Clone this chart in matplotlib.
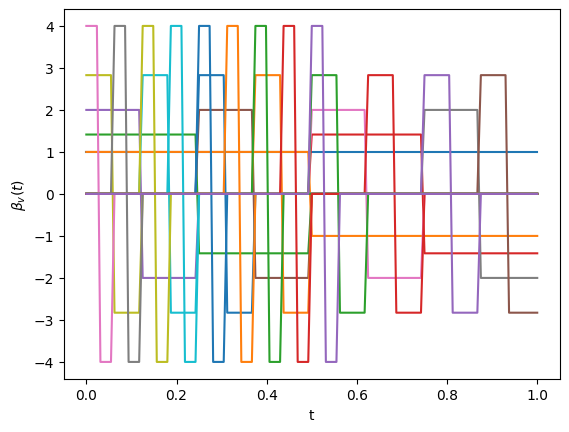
import numpy as np
import matplotlib
matplotlib.use("Agg")
import matplotlib.pyplot as plt

# sample grid (129 points on [0, 1])
t = np.linspace(0, 1, 129)

# Haar-type basis functions: height, support start, support width
# first entry is the constant function (no sign change)
heights = [1.0, 1.0,
           1.414, 1.414,
           2.0, 2.0, 2.0, 2.0,
           2.828, 2.828, 2.828, 2.828, 2.828, 2.828, 2.828, 2.828,
           4.0, 4.0, 4.0, 4.0, 4.0, 4.0, 4.0, 4.0, 4.0]
starts = [0.0, 0.0,
          0.0, 0.5,
          0.0, 0.25, 0.5, 0.75,
          0.0, 0.125, 0.25, 0.375, 0.5, 0.625, 0.75, 0.875,
          0.0, 0.0625, 0.125, 0.1875, 0.25, 0.3125, 0.375, 0.4375, 0.5]
widths = [1.0, 1.0,
          0.5, 0.5,
          0.25, 0.25, 0.25, 0.25,
          0.125, 0.125, 0.125, 0.125, 0.125, 0.125, 0.125, 0.125,
          0.0625, 0.0625, 0.0625, 0.0625, 0.0625, 0.0625, 0.0625, 0.0625, 0.0625]
flips = [False] + [True] * 24

fig, ax = plt.subplots(figsize=(6.4, 4.8), dpi=100)

tt = np.minimum(t, 1 - 1e-12)  # keep the right end inside the last interval
for h, a, w, fl in zip(heights, starts, widths, flips):
    b = a + w
    m = a + w / 2
    y = np.zeros_like(t)
    if fl:
        y[(tt >= a) & (tt < m)] = h
        y[(tt >= m) & (tt < b)] = -h
    else:
        y[(tt >= a) & (tt < b)] = h
    ax.plot(t, y)

ax.set_xlabel("t")
ax.set_ylabel(r"$\beta_v(t)$")

plt.savefig("out.png", bbox_inches="tight")
